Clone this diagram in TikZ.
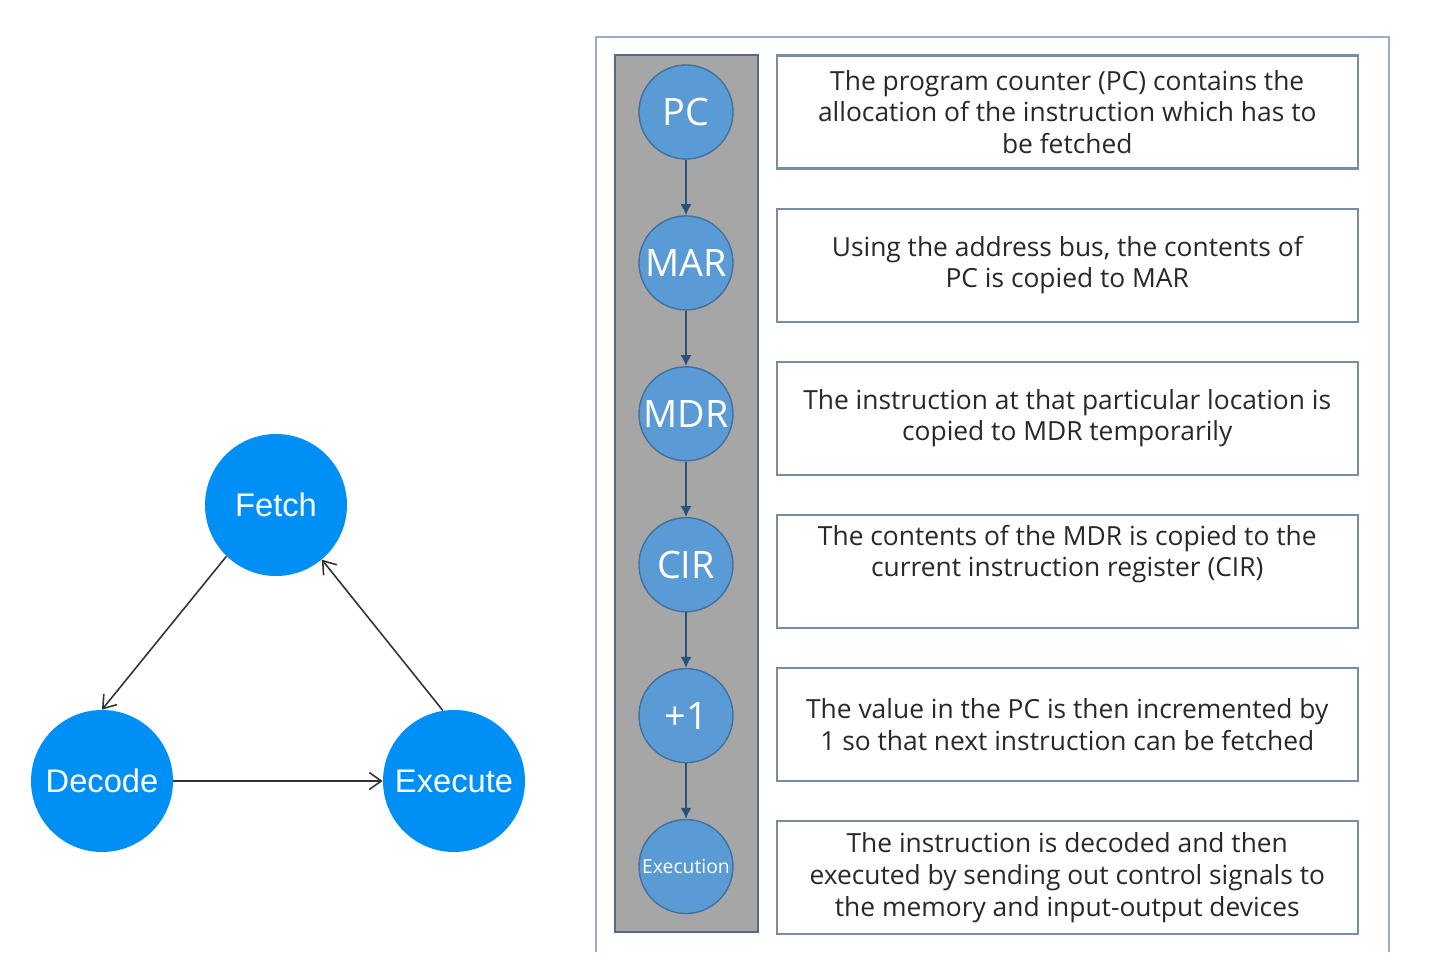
\documentclass[tikz,border=0pt]{standalone}
\usepackage{fontspec}
\setmainfont{Open Sans}
\newfontfamily\arialfont{Liberation Sans}
\usetikzlibrary{positioning, arrows.meta}

\definecolor{cyclefill}{RGB}{0,143,245}
\definecolor{regfill}{RGB}{91,155,213}
\definecolor{regdraw}{RGB}{65,113,156}
\definecolor{colfill}{RGB}{166,166,166}
\definecolor{coldraw}{RGB}{85,105,130}
\definecolor{boxdraw}{RGB}{120,140,165}
\definecolor{panelline}{RGB}{150,172,200}
\definecolor{chainarrow}{RGB}{40,80,120}
\definecolor{boxtext}{RGB}{40,40,40}

\begin{document}
\begin{tikzpicture}[
    node distance=1.11cm,
    stage/.style={
        circle,
        fill=cyclefill,
        minimum size=2.84cm,
        inner sep=0pt,
        text=white,
        font=\arialfont\fontsize{18.6}{20}\selectfont
    },
    reg/.style={
        circle,
        draw=regdraw,
        line width=0.8pt,
        fill=regfill,
        minimum size=1.88cm,
        inner sep=0pt,
        text=white,
        font=\fontsize{21.5}{24}\selectfont
    },
    infobox/.style={
        rectangle,
        draw=boxdraw,
        line width=1.2pt,
        minimum width=11.62cm,
        minimum height=2.26cm,
        align=center,
        text=boxtext,
        font=\fontsize{15}{18}\selectfont
    },
    cyclearrow/.style={-{Straight Barb[length=2.4mm,width=3.4mm]}, line width=0.9pt, draw=black!80},
    chain/.style={-{Latex[length=2.2mm,width=2.2mm]}, line width=1pt, draw=chainarrow}
]
\useasboundingbox (0,0) rectangle (28.8,-19.46);

% Cycle
\node[stage] (fetch) at (5.52,-10.10) {Fetch};
\node[stage] (decode) at (2.04,-15.62) {Decode};
\node[stage] (execute) at (9.08,-15.62) {Execute};

\draw[cyclearrow] (fetch.226) -- (decode.north);
\draw[cyclearrow] (decode.east) -- (execute.west);
\draw[cyclearrow] (execute.99) -- (fetch.310);

% Panel and register column
\draw[panelline, line width=1.2pt] (11.92,-19.04) |- (27.78,-0.74) -- (27.78,-19.04);
\draw[coldraw, fill=colfill, line width=1.2pt] (12.30,-1.10) rectangle (15.16,-18.64);

% Registers
\node[reg] (pc) at (13.72,-2.24) {PC};
\node[reg, below=of pc] (mar) {MAR};
\node[reg, below=of mar] (mdr) {MDR};
\node[reg, below=of mdr] (cir) {CIR};
\node[reg, below=of cir] (inc) {+1};
\node[reg, below=of inc, font=\fontsize{11}{12}\selectfont] (exec) {Execution};

\draw[chain] (pc) -- (mar);
\draw[chain] (mar) -- (mdr);
\draw[chain] (mdr) -- (cir);
\draw[chain] (cir) -- (inc);
\draw[chain] (inc) -- (exec);

% Descriptions
\node[infobox, right=0.84cm of pc] (txtpc) {
    The program counter (PC) contains the\\
    allocation of the instruction which has to\\
    be fetched
};
\node[infobox, below=0.76cm of txtpc] (txtmar) {
    Using the address bus, the contents of\\
    PC is copied to MAR
};
\node[infobox, below=0.76cm of txtmar] (txtmdr) {
    The instruction at that particular location is\\
    copied to MDR temporarily
};
\node[infobox, below=0.76cm of txtmdr] (txtcir) {
    The contents of the MDR is copied to the\\
    current instruction register (CIR)\\
    \strut
};
\node[infobox, below=0.76cm of txtcir] (txtinc) {
    The value in the PC is then incremented by\\
    1 so that next instruction can be fetched
};
\node[infobox, below=0.76cm of txtinc] (txtexec) {
    The instruction is decoded and then\\
    executed by sending out control signals to\\
    the memory and input-output devices
};

\end{tikzpicture}
\end{document}
